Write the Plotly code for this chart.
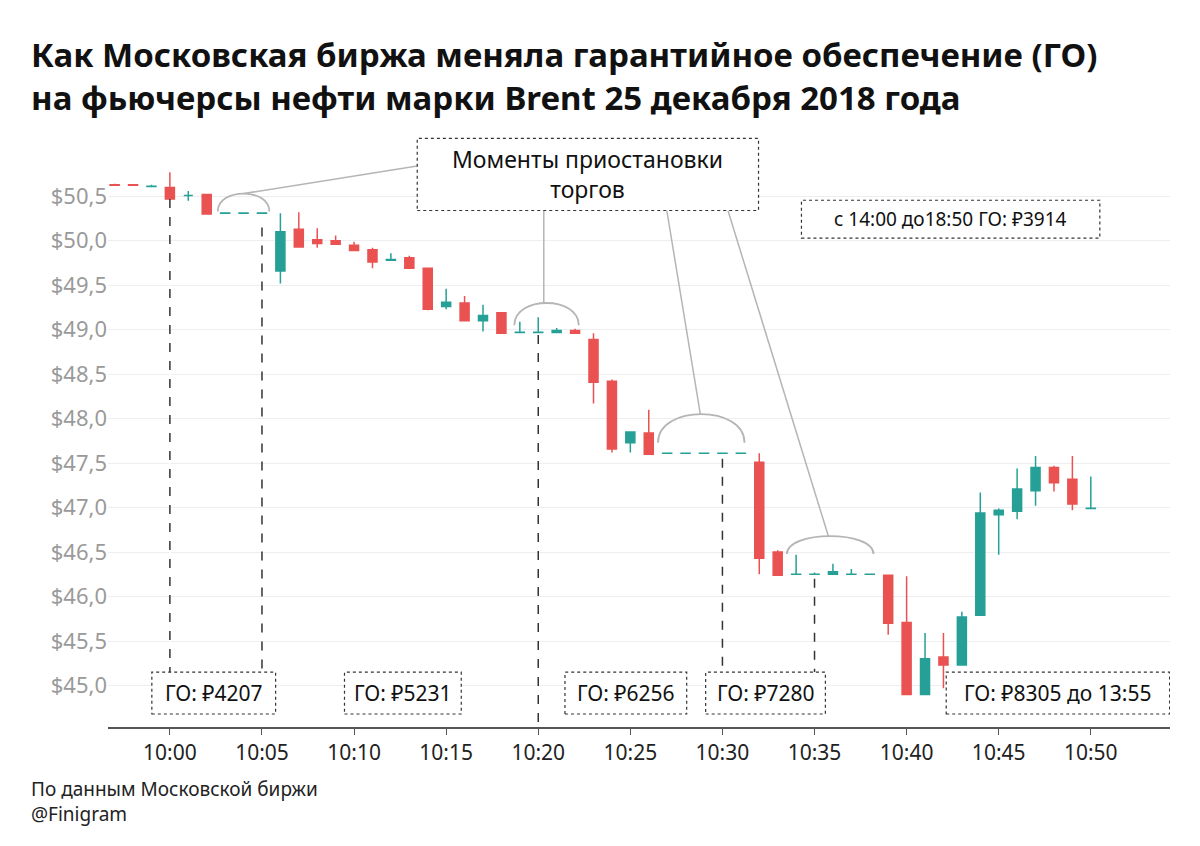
import plotly.graph_objects as go

# minutes from 10:00
minutes = list(range(-3, 51))
opens = [50.63, 50.63, 50.61, 50.60, 50.51, 50.52, 50.31, 50.31, 50.31, 49.66,
         50.13, 50.01, 50.00, 49.95, 49.90, 49.78, 49.81, 49.69, 49.26, 49.30,
         49.10, 49.19, 48.97, 48.97, 48.97, 48.99, 48.89, 48.42, 47.73, 47.84,
         47.61, 47.61, 47.61, 47.61, 47.61, 47.51, 46.50, 46.25, 46.25, 46.25,
         46.25, 46.25, 46.24, 45.71, 44.90, 45.32, 45.23, 45.79, 46.92, 46.96,
         47.19, 47.45, 47.32, 46.99]
closes = [50.625, 50.625, 50.612, 50.47, 50.51, 50.30, 50.312, 50.312, 50.312, 50.10,
          49.93, 49.97, 49.96, 49.89, 49.76, 49.79, 49.69, 49.23, 49.31, 49.10,
          49.16, 48.96, 48.972, 48.972, 48.99, 48.96, 48.41, 47.66, 47.85, 47.60,
          47.612, 47.612, 47.612, 47.612, 47.612, 46.43, 46.24, 46.252, 46.252, 46.28,
          46.252, 46.252, 45.70, 44.90, 45.30, 45.23, 45.77, 46.94, 46.97, 47.21,
          47.45, 47.28, 47.04, 46.992]
highs = [50.64, 50.63, 50.63, 50.77, 50.56, 50.52, 50.31, 50.31, 50.31, 50.31,
         50.32, 50.14, 50.06, 49.99, 49.92, 49.86, 49.83, 49.70, 49.46, 49.38,
         49.28, 49.19, 49.09, 49.14, 49.02, 49.01, 48.96, 48.44, 47.85, 48.10,
         47.61, 47.61, 47.61, 47.61, 47.61, 47.61, 46.52, 46.47, 46.27, 46.37,
         46.31, 46.26, 46.24, 46.23, 45.59, 45.59, 45.83, 47.17, 46.99, 47.44,
         47.58, 47.47, 47.58, 47.35]
lows = [50.62, 50.62, 50.61, 50.47, 50.45, 50.30, 50.31, 50.31, 50.31, 49.52,
        49.93, 49.92, 49.96, 49.89, 49.69, 49.78, 49.69, 49.22, 49.23, 49.10,
        48.98, 48.96, 48.97, 48.97, 48.97, 48.96, 48.17, 47.62, 47.62, 47.60,
        47.61, 47.61, 47.61, 47.61, 47.61, 46.25, 46.24, 46.25, 46.25, 46.25,
        46.25, 46.25, 45.57, 44.90, 44.90, 44.97, 45.23, 45.79, 46.47, 46.87,
        47.02, 47.18, 46.97, 46.99]

y_ticks = [45.0, 45.5, 46.0, 46.5, 47.0, 47.5, 48.0, 48.5, 49.0, 49.5, 50.0, 50.5]
x_ticks = [0, 5, 10, 15, 20, 25, 30, 35, 40, 45, 50]
x_labels = ["10:00", "10:05", "10:10", "10:15", "10:20", "10:25", "10:30",
            "10:35", "10:40", "10:45", "10:50"]

# margin boxes: (x0, x1, text)
go_boxes = [(-0.98, 5.74, "ГО: ₽4207"), (9.48, 15.82, "ГО: ₽5231"),
            (21.45, 28.06, "ГО: ₽6256"), (29.09, 35.59, "ГО: ₽7280"),
            (42.15, 54.28, "ГО: ₽8305 до 13:55")]
# dashed drop lines: (minute, top price, bottom price)
drops = [(0, 50.47, 45.15), (5, 50.15, 45.15), (20, 48.94, 44.534),
         (30, 47.55, 45.15), (35, 46.2, 45.15)]
# halt arcs: (x0, x1, base, peak)
arcs = [(2.6, 5.4, 50.33, 50.53), (18.7, 22.2, 49.05, 49.30),
        (26.5, 31.2, 47.73, 48.05), (33.5, 38.2, 46.48, 46.68)]
# leader lines from callout box
leaders = [(4.0, 50.53, 13.43, 50.84), (20.3, 50.34, 20.3, 49.30),
           (26.98, 50.34, 28.8, 48.05), (30.3, 50.34, 35.75, 46.68)]

INC = "#26a096"
DEC = "#ea5252"

fig = go.Figure(go.Candlestick(
    x=minutes, open=opens, high=highs, low=lows, close=closes,
    increasing=dict(line=dict(color=INC, width=1.5), fillcolor=INC),
    decreasing=dict(line=dict(color=DEC, width=1.5), fillcolor=DEC),
    whiskerwidth=0, showlegend=False, hoverinfo="skip",
))

shapes = []
for x, y0, y1 in drops:
    shapes.append(dict(type="line", x0=x, x1=x, y0=y0, y1=y1,
                       line=dict(color="#333", width=1.5, dash="dash")))
for x0, x1, base, peak in arcs:
    h = base + (peak - base) / 0.75
    shapes.append(dict(type="path", path=f"M {x0},{base} C {x0},{h} {x1},{h} {x1},{base}",
                       line=dict(color="#b5b5b5", width=1.8)))
for x0, y0, x1, y1 in leaders:
    shapes.append(dict(type="line", x0=x0, y0=y0, x1=x1, y1=y1,
                       line=dict(color="#b5b5b5", width=1.5)))

annotations = []
for x0, x1, text in go_boxes:
    shapes.append(dict(type="rect", x0=x0, x1=x1, y0=44.68, y1=45.15,
                       fillcolor="white", line=dict(color="#333", width=1.2, dash="dot")))
    annotations.append(dict(x=(x0 + x1) / 2, y=44.915, text=text, showarrow=False,
                            font=dict(size=21, color="#111")))
shapes.append(dict(type="rect", x0=34.29, x1=50.49, y0=50.03, y1=50.455,
                   fillcolor="white", line=dict(color="#333", width=1.2, dash="dot")))
annotations.append(dict(x=42.39, y=50.24, text="с 14:00 до18:50 ГО: ₽3914", showarrow=False,
                        font=dict(size=19, color="#111")))
shapes.append(dict(type="rect", x0=13.43, x1=31.96, y0=50.34, y1=51.15,
                   fillcolor="white", line=dict(color="#333", width=1.2, dash="dot")))
annotations.append(dict(x=22.7, y=50.745, text="Моменты приостановки<br>торгов", showarrow=False,
                        font=dict(size=23, color="#111")))

annotations.append(dict(xref="paper", yref="paper", x=-0.074, y=1.175, xanchor="left", yanchor="top",
                        align="left", showarrow=False,
                        text="<b>Как Московская биржа меняла гарантийное обеспечение (ГО)<br>"
                             "на фьючерсы нефти марки Brent 25 декабря 2018 года</b>",
                        font=dict(size=33, color="#111")))
annotations.append(dict(xref="paper", yref="paper", x=-0.074, y=-0.08, xanchor="left", yanchor="top",
                        align="left", showarrow=False,
                        text="По данным Московской биржи<br>@Finigram",
                        font=dict(size=19, color="#222")))

fig.update_layout(
    width=1200, height=846,
    margin=dict(l=100, r=38, t=126, b=127),
    paper_bgcolor="white", plot_bgcolor="white",
    font=dict(family="Noto Sans"),
    shapes=shapes, annotations=annotations,
    xaxis=dict(range=[-3.36, 54.3], tickvals=x_ticks, ticktext=x_labels,
               showgrid=False, showline=True, linecolor="#555", linewidth=1.5,
               ticks="outside", tickcolor="#555", ticklen=6,
               tickfont=dict(size=21, color="#222"), rangeslider=dict(visible=False)),
    yaxis=dict(range=[44.534, 51.2], tickvals=y_ticks,
               ticktext=["$" + f"{v:.1f}".replace(".", ",") for v in y_ticks],
               showgrid=True, gridcolor="#eceef2", zeroline=False,
               tickfont=dict(size=22, color="#9a9a9a")),
)

fig.write_html("out.html")
